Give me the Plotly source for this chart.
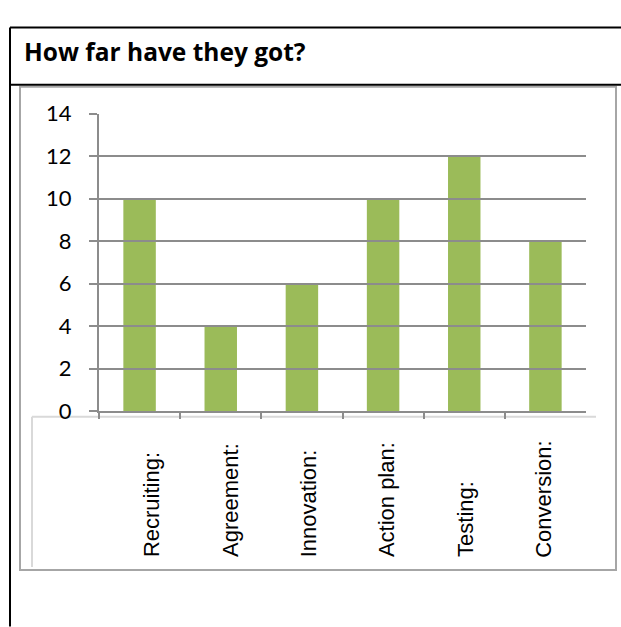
import plotly.graph_objects as go

categories = ["Recruiting:", "Agreement:", "Innovation:", "Action plan:", "Testing:", "Conversion:"]
values = [10, 4, 6, 10, 12, 8]
y_ticks = [0, 2, 4, 6, 8, 10, 12, 14]
title_text = "How far have they got?"

W, H = 621, 627
def px(x):
    return x / W
def py(y):
    return 1 - y / H

fig = go.Figure()
fig.add_trace(go.Bar(
    x=categories, y=values, width=0.4,
    marker=dict(color="#9BBB59", line=dict(width=0)),
    hoverinfo="x+y",
))
# invisible trace carrying the label axis (labels in the reference are spaced slightly tighter)
fig.add_trace(go.Scatter(
    x=categories, y=values, xaxis="x2", yaxis="y", mode="markers",
    marker=dict(opacity=0), hoverinfo="skip", showlegend=False,
))

shapes = []
# outer black table box
shapes.append(dict(type="line", xref="paper", yref="paper", x0=px(10), x1=px(10), y0=py(14), y1=py(640),
                   line=dict(color="black", width=2)))
shapes.append(dict(type="line", xref="paper", yref="paper", x0=px(10), x1=px(630), y0=py(14), y1=py(14),
                   line=dict(color="black", width=2)))
shapes.append(dict(type="line", xref="paper", yref="paper", x0=px(10), x1=px(630), y0=py(74), y1=py(74),
                   line=dict(color="black", width=2)))
# chart border (gray)
shapes.append(dict(type="rect", xref="paper", yref="paper", x0=px(20), x1=px(616), y0=py(76), y1=py(581),
                   line=dict(color="#A6A6A6", width=2), layer="below"))
# label area light box
shapes.append(dict(type="line", xref="paper", yref="paper", x0=px(32), x1=px(596), y0=py(421), y1=py(421),
                   line=dict(color="#D9D9D9", width=2), layer="below"))
shapes.append(dict(type="line", xref="paper", yref="paper", x0=px(32), x1=px(32), y0=py(421), y1=py(578),
                   line=dict(color="#D9D9D9", width=2), layer="below"))

annotations = [dict(text="<b>" + title_text + "</b>", xref="paper", yref="paper", x=px(22), y=py(39),
                    xanchor="left", yanchor="middle", showarrow=False,
                    font=dict(family="Open Sans", size=24.5, color="black"))]
for c in categories:
    annotations.append(dict(text=c, xref="x2", yref="paper", x=c, y=py(570), xanchor="center", yanchor="bottom",
                            textangle=-90, showarrow=False,
                            font=dict(family="Liberation Sans", size=22, color="black")))

fig.update_layout(
    width=W, height=H, margin=dict(l=0, r=0, t=0, b=0),
    paper_bgcolor="white", plot_bgcolor="rgba(0,0,0,0)",
    showlegend=False,
    shapes=shapes, annotations=annotations,
    xaxis=dict(domain=[px(99), px(586)], showgrid=False, showline=True, linecolor="#8C8C8C", linewidth=2,
               ticks="outside", tickson="boundaries", ticklen=6, tickcolor="#8C8C8C", tickwidth=2,
               showticklabels=False, fixedrange=True),
    xaxis2=dict(domain=[px(113), px(583)], anchor="y", visible=False, showgrid=False, zeroline=False,
                categoryorder="array", categoryarray=categories, range=[-0.5, len(categories) - 0.5],
                fixedrange=True),
    yaxis=dict(domain=[py(415), py(104)], range=[0, 14], tickvals=y_ticks, showgrid=True,
               gridcolor="#8C8C8C", gridwidth=2, showline=True, linecolor="#8C8C8C", linewidth=2,
               ticks="outside", ticklen=8, tickcolor="#8C8C8C", tickwidth=2, zeroline=False,
               ticklabelstandoff=13, tickfont=dict(family="Lato", size=22, color="black"), fixedrange=True),
)
fig.write_html("out.html")
